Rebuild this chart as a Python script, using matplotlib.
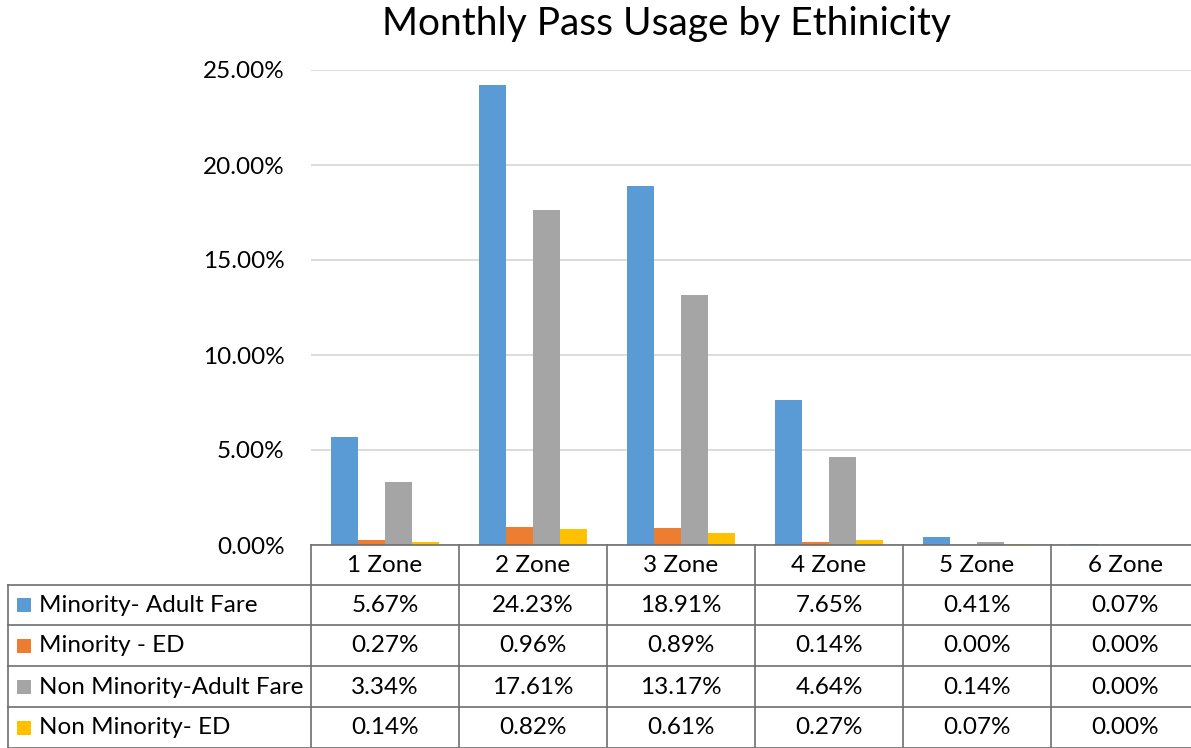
import matplotlib.pyplot as plt
import matplotlib.transforms as mtransforms
from matplotlib.lines import Line2D
from matplotlib.patches import Rectangle
import numpy as np

plt.rcParams['font.family'] = ['Lato', 'DejaVu Sans']

# data
zones = ['1 Zone', '2 Zone', '3 Zone', '4 Zone', '5 Zone', '6 Zone']
series = ['Minority- Adult Fare', 'Minority - ED',
          'Non Minority-Adult Fare', 'Non Minority- ED']
minority_adult = [5.67, 24.23, 18.91, 7.65, 0.41, 0.07]
minority_ed = [0.27, 0.96, 0.89, 0.14, 0.00, 0.00]
non_minority_adult = [3.34, 17.61, 13.17, 4.64, 0.14, 0.00]
non_minority_ed = [0.14, 0.82, 0.61, 0.27, 0.07, 0.00]
values = [minority_adult, minority_ed, non_minority_adult, non_minority_ed]
colors = ['#5B9BD5', '#ED7D31', '#A5A5A5', '#FFC000']

W, H = 1191, 748
fig = plt.figure(figsize=(W / 100, H / 100), dpi=100)

def fx(px):
    return px / W

def fy(py):
    return 1 - py / H

# axes: left 311px, each category 148px wide
ax_left, ax_right = 311, 311 + 6 * 148
ax_bottom, ax_top = 545, 70
ax = fig.add_axes([fx(ax_left), fy(ax_bottom), fx(ax_right - ax_left),
                   (ax_bottom - ax_top) / H])

x = np.arange(len(zones))
bw = 0.182
for i, (vals, c) in enumerate(zip(values, colors)):
    ax.bar(x + (i - 1.5) * bw, np.array(vals) / 100, bw, color=c, zorder=3)

fs = 17.5
ax.set_xlim(-0.5, 5.5)
ax.set_ylim(0, 0.25)
ticks = np.arange(0, 0.2501, 0.05)
ax.set_yticks(ticks)
ax.set_yticklabels(['%.2f%%' % (v * 100) for v in ticks], fontsize=fs)
ax.tick_params(axis='y', length=0, pad=19)
ax.set_xticks([])
ax.grid(axis='y', color='#D9D9D9', linewidth=1.3, zorder=0)
for s in ax.spines.values():
    s.set_visible(False)

fig.text(fx(666), fy(24), 'Monthly Pass Usage by Ethinicity', fontsize=28,
         ha='center', va='center')

# data table below the plot
tc = '#6E6E6E'
row_y = [545, 585, 625, 666, 707, 748]
col_x = [311 + 148 * k for k in range(7)]
lw = 1.2
fig.add_artist(Line2D([fx(311), 1], [fy(545)] * 2, color=tc, lw=lw))
for yy in row_y[1:]:
    fig.add_artist(Line2D([fx(8), 1], [fy(yy)] * 2, color=tc, lw=lw))
fig.add_artist(Line2D([fx(8)] * 2, [fy(585), fy(748)], color=tc, lw=lw))
for xx in col_x[:-1]:
    fig.add_artist(Line2D([fx(xx)] * 2, [fy(545), fy(748)], color=tc, lw=lw))

blend = mtransforms.blended_transform_factory(ax.transData, fig.transFigure)

for j, z in enumerate(zones):
    ax.text(j, fy(565), z, transform=blend, fontsize=fs, ha='center',
            va='center', clip_on=False)

row_centers = [605, 646, 687, 728]
for r, (name, vals, c) in enumerate(zip(series, values, colors)):
    yc = row_centers[r]
    fig.add_artist(Rectangle((fx(17), fy(yc + 7)), fx(14), 14 / H,
                             facecolor=c, edgecolor='none'))
    fig.text(fx(39), fy(yc), name, fontsize=fs, ha='left', va='center')
    for j, v in enumerate(vals):
        ax.text(j, fy(yc), '%.2f%%' % v, transform=blend, fontsize=fs,
                ha='center', va='center', clip_on=False)

fig.savefig('out.png', dpi=100)
